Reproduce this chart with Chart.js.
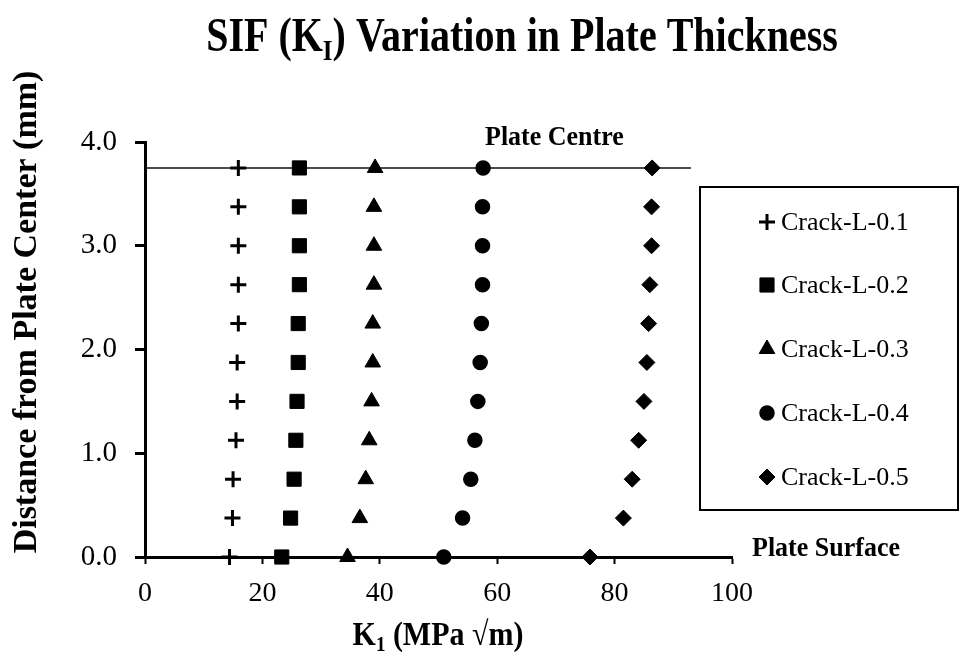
<!DOCTYPE html>
<html>
<head>
<meta charset="utf-8">
<script src="https://cdn.jsdelivr.net/npm/chart.js@4.4.1/dist/chart.umd.min.js"></script>
<style>
  html, body { margin: 0; padding: 0; background: #fff; }
  #wrap { width: 959px; height: 656px; position: relative; }
</style>
</head>
<body>
<div id="wrap"><canvas id="chart"></canvas></div>
<script>
// distance from plate center (mm), bottom (surface) to top (centre)
const DEPTHS    = [0, 0.375, 0.75, 1.125, 1.5, 1.875, 2.25, 2.625, 3.0, 3.375, 3.75];
const CRACK_01  = [14.4, 14.9, 15.0, 15.5, 15.7, 15.7, 15.9, 15.9, 15.9, 15.9, 15.9];
const CRACK_02  = [23.3, 24.8, 25.4, 25.7, 25.9, 26.1, 26.1, 26.3, 26.3, 26.3, 26.3];
const CRACK_03  = [34.5, 36.6, 37.6, 38.2, 38.6, 38.8, 38.8, 39.0, 39.0, 39.0, 39.2];
const CRACK_04  = [50.9, 54.1, 55.5, 56.2, 56.7, 57.1, 57.3, 57.5, 57.5, 57.5, 57.6];
const CRACK_05  = [75.8, 81.5, 83.0, 84.1, 85.0, 85.5, 85.8, 86.0, 86.3, 86.3, 86.4];
const SERIES_LABELS = ['Crack-L-0.1', 'Crack-L-0.2', 'Crack-L-0.3', 'Crack-L-0.4', 'Crack-L-0.5'];
const X_TICKS = [0, 20, 40, 60, 80, 100];
const Y_TICKS = [0, 1, 2, 3, 4];
const CENTRE_LINE_X = [0, 93];
const CENTRE_LINE_Y = 3.75;

const SERIF = '"Liberation Serif", "Times New Roman", serif';

const MARKERS = [
  { pointStyle: 'cross',    radius: 8,  borderWidth: 3 },
  { pointStyle: 'rect',     radius: 10, borderWidth: 1 },
  { pointStyle: 'triangle', radius: 9,  borderWidth: 1 },
  { pointStyle: 'circle',   radius: 7,  borderWidth: 1.5 },
  { pointStyle: 'rectRot',  radius: 8,  borderWidth: 1 },
];

const toPoints = xs => xs.map((x, i) => ({ x, y: DEPTHS[i] }));

const seriesData = [CRACK_01, CRACK_02, CRACK_03, CRACK_04, CRACK_05];

const datasets = seriesData.map((vals, i) => ({
  label:           SERIES_LABELS[i],
  data:            toPoints(vals),
  pointStyle:      MARKERS[i].pointStyle,
  pointRadius:     MARKERS[i].radius,
  pointHoverRadius: MARKERS[i].radius,
  pointBorderWidth: MARKERS[i].borderWidth,
  backgroundColor: '#000',
  borderColor:     '#000',
  showLine:        false,
  clip:            false,
}));

datasets.push({
  label:       'centre',
  data:        CENTRE_LINE_X.map(x => ({ x, y: CENTRE_LINE_Y })),
  showLine:    true,
  borderColor: '#111',
  borderWidth: 1.5,
  pointRadius: 0,
  clip:        false,
});

// draws bold text with optional subscript parts; stretchY makes glyphs taller
function richText(ctx, parts, x, y, size, align, stretchY = 1) {
  const subSize = Math.round(size * 0.62);
  let total = 0;
  parts.forEach(p => {
    ctx.font = `bold ${p.sub ? subSize : size}px ${SERIF}`;
    total += ctx.measureText(p.text).width;
  });
  let cx = align === 'center' ? x - total / 2 : x;
  ctx.save();
  ctx.translate(0, y);
  ctx.scale(1, stretchY);
  ctx.textAlign = 'left';
  ctx.textBaseline = 'alphabetic';
  parts.forEach(p => {
    ctx.font = `bold ${p.sub ? subSize : size}px ${SERIF}`;
    ctx.fillText(p.text, cx, p.sub ? size * 0.18 : 0);
    cx += ctx.measureText(p.text).width;
  });
  ctx.restore();
}

const annotations = {
  id: 'annotations',
  afterDraw(chart) {
    const ctx = chart.ctx;
    ctx.save();
    ctx.fillStyle = '#000';

    richText(ctx, [
      { text: 'SIF (K' }, { text: 'I', sub: true },
      { text: ') Variation in Plate Thickness' },
    ], 522, 51, 40, 'center', 1.22);

    richText(ctx, [
      { text: 'K' }, { text: '1', sub: true }, { text: ' (MPa \u221Am)' },
    ], 438, 645, 30, 'center', 1.12);

    richText(ctx, [{ text: 'Plate Centre' }], 485, 145, 26, 'left', 1.08);
    richText(ctx, [{ text: 'Plate Surface' }], 752, 556, 26, 'left', 1.05);

    ctx.save();
    ctx.translate(36, 312);
    ctx.rotate(-Math.PI / 2);
    richText(ctx, [{ text: 'Distance from Plate Center (mm)' }], 0, 0, 34, 'center');
    ctx.restore();

    // legend box
    ctx.lineWidth = 2;
    ctx.strokeStyle = '#000';
    ctx.strokeRect(700, 187, 258, 323);
    const rowY = [222, 285, 349, 413, 477];
    ctx.font = `26px ${SERIF}`;
    ctx.textAlign = 'left';
    ctx.textBaseline = 'middle';
    SERIES_LABELS.forEach((label, i) => {
      const m = MARKERS[i];
      ctx.fillStyle = '#000';
      ctx.strokeStyle = '#000';
      ctx.lineWidth = m.borderWidth;
      Chart.helpers.drawPoint(ctx, {
        pointStyle: m.pointStyle, radius: m.radius, rotation: 0, borderWidth: m.borderWidth,
      }, 767, rowY[i]);
      ctx.fillStyle = '#000';
      ctx.fillText(label, 781, rowY[i] + 1);
    });
    ctx.restore();
  },
};

new Chart(document.getElementById('chart'), {
  type: 'scatter',
  data: { datasets },
  options: {
    responsive: true,
    maintainAspectRatio: false,
    animation: false,
    layout: { padding: { top: 142, right: 227, bottom: 0, left: 0 } },
    plugins: {
      legend:  { display: false },
      tooltip: { enabled: false },
      title:   { display: false },
    },
    scales: {
      x: {
        type: 'linear',
        min: 0,
        max: 100,
        afterBuildTicks: axis => { axis.ticks = X_TICKS.map(v => ({ value: v })); },
        afterFit: axis => { axis.height = 99; },
        ticks: {
          color: '#000',
          font: { family: SERIF, size: 28 },
          padding: 13,
          maxRotation: 0,
        },
        grid: {
          drawOnChartArea: false,
          drawTicks: true,
          tickLength: 7,
          tickWidth: 2,
          tickColor: '#000',
        },
        border: { display: true, color: '#000', width: 3 },
      },
      y: {
        type: 'linear',
        min: 0,
        max: 4,
        afterBuildTicks: axis => { axis.ticks = Y_TICKS.map(v => ({ value: v })); },
        afterFit: axis => { axis.width = 145; },
        ticks: {
          color: '#000',
          font: { family: SERIF, size: 29 },
          padding: 18,
          callback: v => Number(v).toFixed(1),
        },
        grid: {
          drawOnChartArea: false,
          drawTicks: true,
          tickLength: 10,
          tickWidth: 3,
          tickColor: '#000',
        },
        border: { display: true, color: '#000', width: 3 },
      },
    },
  },
  plugins: [annotations],
});
</script>
</body>
</html>
